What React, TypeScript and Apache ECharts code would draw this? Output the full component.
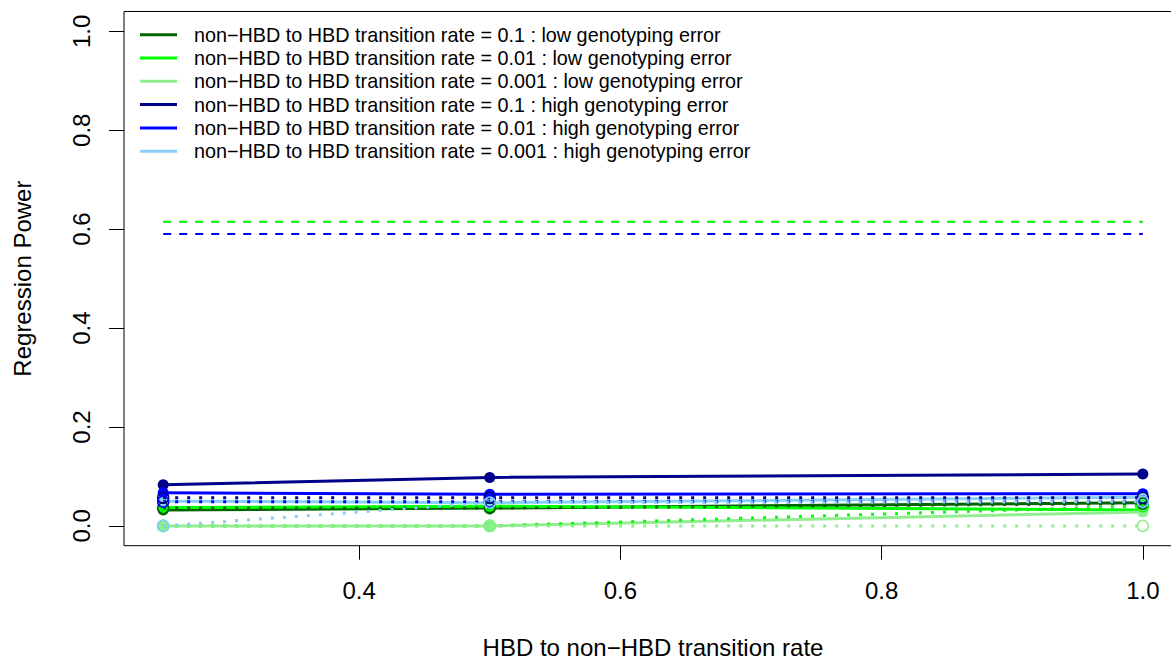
import React, { useEffect, useRef } from "react";
import * as echarts from "echarts";

// HBD -> non-HBD transition rates (x positions of the simulated scenarios)
const X_VALUES = [0.25, 0.5, 1.0];
const X_TICKS = [0.4, 0.6, 0.8, 1.0];
const Y_TICKS = [0, 0.2, 0.4, 0.6, 0.8, 1.0];

const LABELS = [
  "non\u2212HBD to HBD transition rate = 0.1 : low genotyping error",
  "non\u2212HBD to HBD transition rate = 0.01 : low genotyping error",
  "non\u2212HBD to HBD transition rate = 0.001 : low genotyping error",
  "non\u2212HBD to HBD transition rate = 0.1 : high genotyping error",
  "non\u2212HBD to HBD transition rate = 0.01 : high genotyping error",
  "non\u2212HBD to HBD transition rate = 0.001 : high genotyping error",
];
const COLORS = ["#006400", "#00ff00", "#90ee90", "#00008b", "#0000ff", "#87cefa"];

// Regression power, solid lines (filled points)
const lowErr01 = [0.032, 0.036, 0.047];
const lowErr001 = [0.037, 0.04, 0.032];
const lowErr0001 = [0.0, 0.0, 0.028];
const highErr01 = [0.083, 0.098, 0.105];
const highErr001 = [0.067, 0.064, 0.065];
const highErr0001 = [0.05, 0.047, 0.058];

// Regression power, dotted lines (open points)
const lowErr01Dot = [0.036, 0.036, 0.045];
const lowErr001Dot = [0.0, 0.0, 0.04];
const lowErr0001Dot = [0.0, 0.0, 0.0];
const highErr01Dot = [0.057, 0.057, 0.057];
const highErr001Dot = [0.049, 0.049, 0.049];
const highErr0001Dot = [0.0, 0.047, 0.049];

// Reference levels (dashed)
const REF_LOW_ERROR = 0.615;
const REF_HIGH_ERROR = 0.59;

const SOLID = [lowErr01, lowErr001, lowErr0001, highErr01, highErr001, highErr0001];
const DOTTED = [lowErr01Dot, lowErr001Dot, lowErr0001Dot, highErr01Dot, highErr001Dot, highErr0001Dot];

const FONT = "'Liberation Sans', Arial, Helvetica, sans-serif";

function buildOption() {
  const toPoints = (vals: number[]) => X_VALUES.map((x, i) => [x, vals[i]]);
  const series: any[] = [];

  series.push({
    name: "ref-low",
    type: "line",
    data: [[X_VALUES[0], REF_LOW_ERROR], [X_VALUES[X_VALUES.length - 1], REF_LOW_ERROR]],
    showSymbol: false,
    symbol: "none",
    lineStyle: { color: "#00ee00", width: 2, type: [8, 8] },
    z: 1,
  });
  series.push({
    name: "ref-high",
    type: "line",
    data: [[X_VALUES[0], REF_HIGH_ERROR], [X_VALUES[X_VALUES.length - 1], REF_HIGH_ERROR]],
    showSymbol: false,
    symbol: "none",
    lineStyle: { color: "#0000ee", width: 2, type: [8, 8] },
    z: 1,
  });

  SOLID.forEach((vals, i) => {
    series.push({
      name: LABELS[i],
      type: "line",
      data: toPoints(vals),
      symbol: "circle",
      symbolSize: 11,
      itemStyle: { color: COLORS[i] },
      lineStyle: { color: COLORS[i], width: 3 },
      z: 2,
    });
  });

  DOTTED.forEach((vals, i) => {
    series.push({
      name: LABELS[i] + " (dotted)",
      type: "line",
      data: toPoints(vals),
      symbol: "circle",
      symbolSize: 11,
      itemStyle: { color: "rgba(0,0,0,0)", borderColor: COLORS[i], borderWidth: 1.5 },
      lineStyle: { color: COLORS[i], width: 3, type: [3, 9] },
      z: 3,
    });
  });

  return {
    animation: false,
    backgroundColor: "#ffffff",
    grid: {
      left: 124,
      top: 11.5,
      width: 1058,
      height: 534.2,
      outerBoundsMode: "none",
      containLabel: false,
      show: true,
      borderColor: "#000",
      borderWidth: 1,
      backgroundColor: "transparent",
    },
    legend: {
      orient: "vertical",
      left: 140,
      top: 24.7,
      padding: 0,
      itemWidth: 37,
      itemHeight: 3,
      itemGap: 3.3,
      icon: "rect",
      selectedMode: false,
      data: LABELS,
      textStyle: {
        fontSize: 19.8,
        lineHeight: 20,
        color: "#000",
        fontFamily: FONT,
        padding: [0, 0, 0, 12],
      },
    },
    xAxis: {
      type: "value",
      min: 0.22,
      max: 1.03,
      axisLine: { show: true, onZero: false, lineStyle: { color: "rgba(0,0,0,0)" } },
      splitLine: { show: false },
      axisTick: {
        show: true,
        inside: false,
        length: 14,
        customValues: X_TICKS,
        lineStyle: { color: "#000", width: 1 },
      },
      axisLabel: {
        customValues: X_TICKS,
        margin: 33,
        fontSize: 24,
        color: "#000",
        fontFamily: FONT,
        formatter: (v: number) => v.toFixed(1),
      },
      name: "HBD to non\u2212HBD transition rate",
      nameLocation: "middle",
      nameGap: 90,
      nameTextStyle: { fontSize: 24, lineHeight: 24, color: "#000", fontFamily: FONT },
    },
    yAxis: {
      type: "value",
      min: -0.04,
      max: 1.04,
      axisLine: { show: true, onZero: false, lineStyle: { color: "rgba(0,0,0,0)" } },
      splitLine: { show: false },
      axisTick: {
        show: true,
        inside: false,
        length: 15,
        customValues: Y_TICKS,
        lineStyle: { color: "#000", width: 1 },
      },
      axisLabel: {
        customValues: Y_TICKS,
        rotate: 90,
        margin: 31,
        fontSize: 24,
        color: "#000",
        fontFamily: FONT,
        formatter: (v: number) => v.toFixed(1),
      },
      name: "Regression Power",
      nameLocation: "middle",
      nameGap: 90,
      nameRotate: 90,
      nameTextStyle: { fontSize: 24, color: "#000", fontFamily: FONT },
    },
    series,
  };
}

export default function App() {
  const ref = useRef<HTMLDivElement>(null);
  useEffect(() => {
    if (!ref.current) return;
    const chart = echarts.init(ref.current, null, { renderer: "svg" });
    chart.setOption(buildOption() as any);
    return () => chart.dispose();
  }, []);
  return (
    <div
      ref={ref}
      style={{ position: "fixed", left: 0, top: 0, width: 1171, height: 660, background: "#fff" }}
    />
  );
}
